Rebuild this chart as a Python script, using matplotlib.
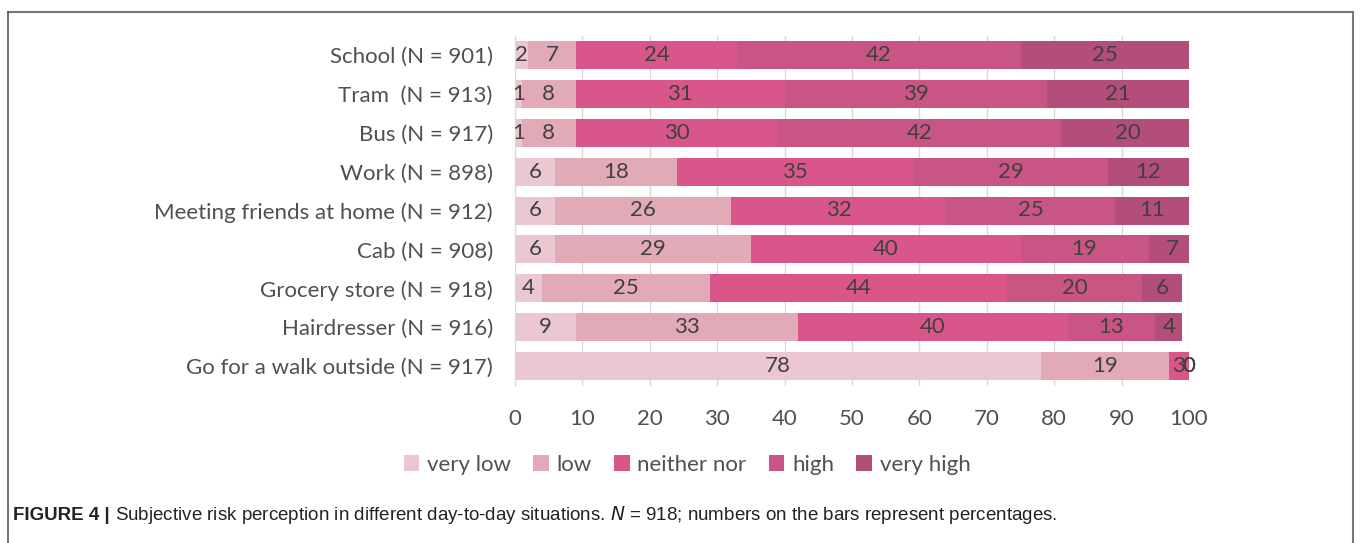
import numpy as np
import matplotlib.pyplot as plt

situations = [
    'School (N = 901)',
    'Tram  (N = 913)',
    'Bus (N = 917)',
    'Work (N = 898)',
    'Meeting friends at home (N = 912)',
    'Cab (N = 908)',
    'Grocery store (N = 918)',
    'Hairdresser (N = 916)',
    'Go for a walk outside (N = 917)',
]
levels = ['very low', 'low', 'neither nor', 'high', 'very high']
very_low = [2, 1, 1, 6, 6, 6, 4, 9, 78]
low = [7, 8, 8, 18, 26, 29, 25, 33, 19]
neither_nor = [24, 31, 30, 35, 32, 40, 44, 40, 3]
high = [42, 39, 42, 29, 25, 19, 20, 13, 0]
very_high = [25, 21, 20, 12, 11, 7, 6, 4, 0]

colors = ['#ebc8d1', '#e2a9b6', '#d9568a', '#c95585', '#b24e79']
text_col = '#404040'
label_col = '#505050'
font = ['Lato', 'DejaVu Sans']

fig = plt.figure(figsize=(13.6, 5.43), dpi=100)
ax = fig.add_axes([515 / 1360, 1 - 385.5 / 543, 674 / 1360, 350 / 543])

series = [very_low, low, neither_nor, high, very_high]
y = np.arange(len(situations))
left = np.zeros(len(situations))
for vals, col, name in zip(series, colors, levels):
    vals = np.array(vals, dtype=float)
    ax.barh(y, vals, left=left, height=0.72, color=col, label=name, zorder=2)
    for yi, l, v in zip(y, left, vals):
        ax.text(l + v / 2, yi, f'{int(v)}', ha='center', va='center',
                fontsize=16, color=text_col, family=font, zorder=3)
    left += vals

ax.set_xlim(0, 100)
ax.set_ylim(len(situations) - 0.5, -0.5)
ax.set_xticks(range(0, 101, 10))
ax.set_yticks(y)
ax.set_yticklabels(situations, family=font, fontsize=16, color=label_col)
for lab in ax.get_xticklabels():
    lab.set_family(font)
    lab.set_fontsize(16)
    lab.set_color(label_col)
ax.tick_params(axis='y', length=0, pad=16)
ax.tick_params(axis='x', length=0, pad=17)
ax.grid(axis='x', color='#d9d9d9', lw=1, zorder=0)
for s in ['top', 'right', 'bottom']:
    ax.spines[s].set_visible(False)
ax.spines['left'].set_color('#d9d9d9')

leg = fig.legend(loc='center', bbox_to_anchor=(687 / 1360, 1 - 465 / 543),
                 ncol=5, frameon=False, handlelength=0.7, handleheight=0.7,
                 handletextpad=0.35, columnspacing=1.0,
                 prop={'family': font, 'size': 16})
for t in leg.get_texts():
    t.set_color(label_col)

# outer frame
top = 1 - 12 / 543
fig.add_artist(plt.Line2D([8 / 1360, 1353 / 1360], [top, top],
                          color='#777777', lw=1.5, transform=fig.transFigure))
fig.add_artist(plt.Line2D([8 / 1360] * 2, [0, top],
                          color='#555555', lw=1.2, transform=fig.transFigure))
fig.add_artist(plt.Line2D([1353 / 1360] * 2, [0, top],
                          color='#777777', lw=1.5, transform=fig.transFigure))

# caption: bold figure number followed by the description
cap_font = ['Liberation Sans', 'DejaVu Sans']
cap_y = 1 - 515 / 543
head = fig.text(13 / 1360, cap_y, 'FIGURE 4 | ', fontsize=13.5,
                fontweight='bold', family=cap_font, va='center',
                color='#222222')
fig.canvas.draw()
bb = head.get_window_extent()
fig.text(bb.x1 / 1360, cap_y,
         'Subjective risk perception in different day-to-day situations. '
         '$\\it{N}$ = 918; numbers on the bars represent percentages.',
         fontsize=13.5, family=cap_font, va='center', color='#222222')

fig.savefig('out.png', dpi=100)
